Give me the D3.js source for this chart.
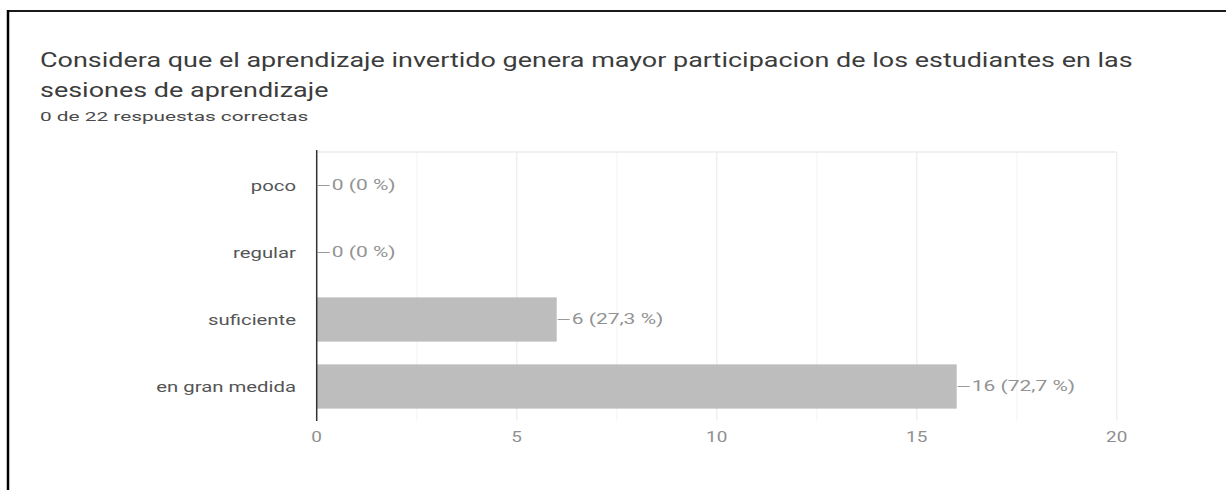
<!DOCTYPE html>
<html>
<head>
<meta charset="utf-8">
<script src="https://cdn.jsdelivr.net/npm/d3@7"></script>
<style>
  body { margin: 0; background: #fff; }
  text { font-family: Roboto, "Noto Sans", sans-serif; }
</style>
</head>
<body>
<div id="chart"></div>
<script>
const titleLines = ['Considera que el aprendizaje invertido genera mayor participacion de los estudiantes en las', 'sesiones de aprendizaje']
const subtitle = '0 de 22 respuestas correctas'
const categories = ['poco', 'regular', 'suficiente', 'en gran medida']
const counts = [0, 0, 6, 16]
const percents = ['0 %', '0 %', '27,3 %', '72,7 %']
const xTicks = [0, 5, 10, 15, 20]
const xGrid = [0, 2.5, 5, 7.5, 10, 12.5, 15, 17.5, 20]

const width = 1226, height = 490

const svg = d3.select('#chart').append('svg')
  .attr('width', width)
  .attr('height', height)

// the screenshot is stretched sideways, so widen text to match
function widen(sel, k) {
  sel.each(function() {
    const len = this.getComputedTextLength()
    d3.select(this).attr('textLength', len * k).attr('lengthAdjust', 'spacingAndGlyphs')
  })
}

// frame
svg.append('line').attr('x1', 7).attr('x2', width).attr('y1', 11).attr('y2', 11)
  .attr('stroke', '#1a1a1a').attr('stroke-width', 2)
svg.append('line').attr('x1', 8).attr('x2', 8).attr('y1', 10).attr('y2', height)
  .attr('stroke', '#000').attr('stroke-width', 2.5)

svg.selectAll('.title').data(titleLines).enter().append('text')
  .attr('class', 'title')
  .attr('x', 40)
  .attr('y', (d, i) => 67 + i * 30)
  .attr('font-size', 20.5)
  .attr('fill', '#3c3c3c')
  .text(d => d)
  .call(widen, 1.315)

svg.append('text')
  .attr('x', 40).attr('y', 121)
  .attr('font-size', 13)
  .attr('fill', '#4a4a4a')
  .text(subtitle)
  .call(widen, 1.6)

const x = d3.scaleLinear().domain([0, 20]).range([316.7, 1116.7])
const y = d3.scaleBand().domain(categories).range([152, 420])
  .paddingInner(0.34).paddingOuter(0.17)

const g = svg.append('g')

// grid
g.selectAll('.grid').data(xGrid).enter().append('line')
  .attr('x1', d => x(d)).attr('x2', d => x(d))
  .attr('y1', 152).attr('y2', 420)
  .attr('stroke', (d, i) => i % 2 ? '#f7f7f7' : '#efefef')
  .attr('stroke-width', 1.5)
g.append('line')
  .attr('x1', x(0)).attr('x2', x(20))
  .attr('y1', 152).attr('y2', 152)
  .attr('stroke', '#ececec').attr('stroke-width', 1.5)

// bars
g.selectAll('.bar').data(counts).enter().append('rect')
  .attr('x', x(0))
  .attr('y', (d, i) => y(categories[i]))
  .attr('width', d => x(d) - x(0))
  .attr('height', y.bandwidth())
  .attr('fill', '#bdbdbd')

// axis line
g.append('line')
  .attr('x1', x(0)).attr('x2', x(0))
  .attr('y1', 150).attr('y2', 421)
  .attr('stroke', '#333').attr('stroke-width', 1.5)

// category labels
g.selectAll('.cat').data(categories).enter().append('text')
  .attr('x', 296)
  .attr('y', d => y(d) + y.bandwidth() / 2)
  .attr('dy', '0.35em')
  .attr('text-anchor', 'end')
  .attr('font-size', 14.5)
  .attr('fill', '#555')
  .text(d => d)
  .call(widen, 1.4)

// value labels with leader
g.selectAll('.lead').data(counts).enter().append('line')
  .attr('x1', d => x(d) + 1).attr('x2', d => x(d) + 13)
  .attr('y1', (d, i) => y(categories[i]) + y.bandwidth() / 2)
  .attr('y2', (d, i) => y(categories[i]) + y.bandwidth() / 2)
  .attr('stroke', '#9a9a9a').attr('stroke-width', 1)
g.selectAll('.val').data(counts).enter().append('text')
  .attr('x', d => x(d) + 15)
  .attr('y', (d, i) => y(categories[i]) + y.bandwidth() / 2)
  .attr('dy', '0.35em')
  .attr('font-size', 14)
  .attr('fill', '#939393')
  .text((d, i) => `${d} (${percents[i]})`)
  .call(widen, 1.5)

// x tick labels
g.selectAll('.tick').data(xTicks).enter().append('text')
  .attr('x', d => x(d))
  .attr('y', 437)
  .attr('dy', '0.35em')
  .attr('text-anchor', 'middle')
  .attr('font-size', 14)
  .attr('fill', '#8f8f8f')
  .text(d => d)
  .call(widen, 1.35)
</script>
</body>
</html>
